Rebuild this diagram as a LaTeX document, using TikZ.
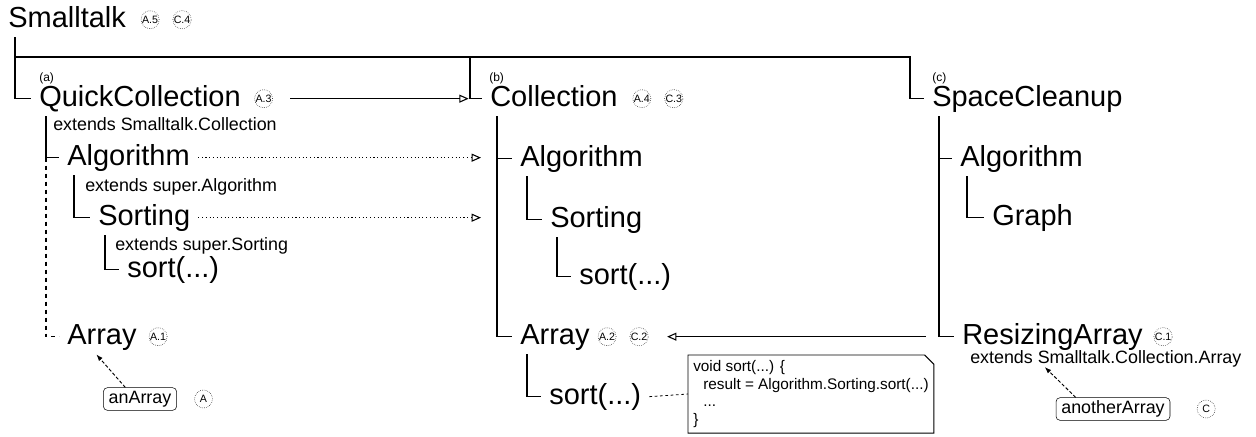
\documentclass[tikz,border=0pt]{standalone}
\usepackage{fontspec}
\setmainfont{Liberation Sans}
\usetikzlibrary{positioning,arrows.meta}

\begin{document}
\begin{tikzpicture}[x=0.75pt, y=-0.75pt,
    cls/.style={font=\fontsize{21.75}{26}\selectfont, anchor=base west, inner xsep=6pt, inner ysep=3pt, text height=15.6pt, text depth=4.6pt},
    ext/.style={font=\fontsize{13.4}{16}\selectfont, anchor=base west, inner sep=0pt},
    sub/.style={font=\fontsize{9}{11}\selectfont, anchor=base west, inner sep=0pt},
    badge/.style={circle, draw, densely dotted, minimum size=13.5pt, inner sep=0pt, font=\fontsize{8}{9}\selectfont},
    obj/.style={draw, rounded corners=3pt, font=\fontsize{13.4}{16}\selectfont, inner xsep=4pt, inner ysep=2.3pt, text height=9.6pt, text depth=2.8pt},
    codenote/.style={anchor=north west, align=left, inner xsep=3.75pt, inner ysep=3.75pt, font=\fontsize{11.5}{13.3}\selectfont},
    branch/.style={line width=0.8pt},
    inh/.style={line width=0.8pt, -{Triangle[open, length=7pt, width=6pt]}},
    refarrow/.style={line width=0.7pt, dash pattern=on 2.5pt off 1.5pt, -{Latex[length=5pt, width=3.5pt]}}]

    \useasboundingbox (0,0) rectangle (1256,436);

    % Root
    \node[cls] (st) at (0,27) {Smalltalk};
    \node[badge, right=5pt of st] (stA5) {A.5};
    \node[badge, right=10pt of stA5] (stC4) {C.4};

    % Column (a)
    \node[cls] (qc) at (31,106) {QuickCollection};
    \node[badge, right=4pt of qc] (qcA3) {A.3};
    \node[ext] (qcExt) at (53,130) {extends Smalltalk.Collection};
    \node[cls] (qcAlg) at (59,165) {Algorithm};
    \node[ext] (qcAlgExt) at (85,191) {extends super.Algorithm};
    \node[cls] (qcSort) at (90,225) {Sorting};
    \node[ext] (qcSortExt) at (115,250) {extends super.Sorting};
    \node[cls] (qcSortM) at (119,277) {sort(...)};
    \node[cls] (qcArr) at (59,344) {Array};
    \node[badge, right=3pt of qcArr] (qcA1) {A.1};
    \node[obj] (anArr) at (140,399) {anArray};
    \node[badge, right=13pt of anArr] (anA) {A};

    % Column (b)
    \node[cls] (col) at (482,106) {Collection};
    \node[badge, right=5pt of col] (colA4) {A.4};
    \node[badge, right=10pt of colA4] (colC3) {C.3};
    \node[cls] (colAlg) at (512,166) {Algorithm};
    \node[cls] (colSort) at (542,227) {Sorting};
    \node[cls] (colSortM) at (571,284) {sort(...)};
    \node[cls] (colArr) at (512,344) {Array};
    \node[badge, right=0pt of colArr] (colA2) {A.2};
    \node[badge, right=10pt of colA2] (colC2) {C.2};
    \node[cls] (colArrM) at (541,404) {sort(...)};
    \node[codenote] (code) at (688,355) {void sort(...) \{\\
        \hspace*{7.5pt}result = Algorithm.Sorting.sort(...)\\
        \hspace*{7.5pt}...\\
        \}};

    % Column (c)
    \node[cls] (sc) at (924,106) {SpaceCleanup};
    \node[cls] (scAlg) at (952,166) {Algorithm};
    \node[cls] (scGraph) at (984,225) {Graph};
    \node[cls] (scRArr) at (954,344) {ResizingArray};
    \node[badge, right=2pt of scRArr] (scC1) {C.1};
    \node[ext] (rExt) at (970,363) {extends Smalltalk.Collection.Array};
    \node[obj] (anoArr) at (1113,409) {anotherArray};
    \node[badge, right=20pt of anoArr] (anoC) {C};

    % Column tags
    \foreach \t/\x in {a/39, b/489, c/932} {
        \node[sub] (tag\t) at (\x,81) {(\t)};
    }

    % Tree lines
    \coordinate (busB) at (470,57);
    \coordinate (busC) at (910,57);
    \draw[branch] (st.south west) ++(15,0) coordinate (stT) |- (qc.west);
    \draw[branch] (stT |- busB) -- (busC) |- (sc.west);
    \draw[branch] (busB) |- (col.west);

    \draw[branch] (qc.south west) ++(15,0) coordinate (qcT) |- (qcAlg.west);
    \draw[branch, dashed] (qcT |- qcAlg.west) |- (qcArr.west);
    \draw[branch] (qcAlg.south west) ++(15,0) |- (qcSort.west);
    \draw[branch] (qcSort.south west) ++(15,0) |- (qcSortM.west);

    \draw[branch] (col.south west) ++(15,0) coordinate (colT) |- (colArr.west);
    \draw[branch] (colT |- colAlg.west) -- (colAlg.west);
    \draw[branch] (colAlg.south west) ++(15,0) |- (colSort.west);
    \draw[branch] (colSort.south west) ++(15,0) |- (colSortM.west);
    \draw[branch] (colArr.south west) ++(15,0) |- (colArrM.west);

    \draw[branch] (sc.south west) ++(15,0) coordinate (scT) |- (scRArr.west);
    \draw[branch] (scT |- scAlg.west) -- (scAlg.west);
    \draw[branch] (scAlg.south west) ++(15,0) |- (scGraph.west);

    % Arrows between columns
    \draw[inh] ([xshift=13pt]qcA3.east) -- ([xshift=-1pt]qcA3.east -| busB);
    \draw[inh, dotted] (qcAlg.east) -- ([xshift=-12pt]qcAlg.east -| colT);
    \draw[inh, dotted] (qcSort.east) -- ([xshift=-12pt]qcSort.east -| colT);
    \draw[inh] ([xshift=-10pt]scT |- scRArr.west) -- ([xshift=14pt]colC2.east);

    % Instances and note
    \draw[refarrow] ([xshift=-11pt]anArr.north) -- ([xshift=28pt]qcArr.south west);
    \draw[refarrow] ([xshift=-28pt]anoArr.north) -- ([xshift=56pt]rExt.south west);
    \draw[line width=0.6pt, dash pattern=on 2pt off 2pt] (colArrM.east) -- (code.west);
    \draw[line width=0.7pt] (code.south west) -- (code.north west) -- ([xshift=-7pt]code.north east)
        -- ([yshift=-7pt]code.north east) -- (code.south east) -- cycle;

\end{tikzpicture}
\end{document}
